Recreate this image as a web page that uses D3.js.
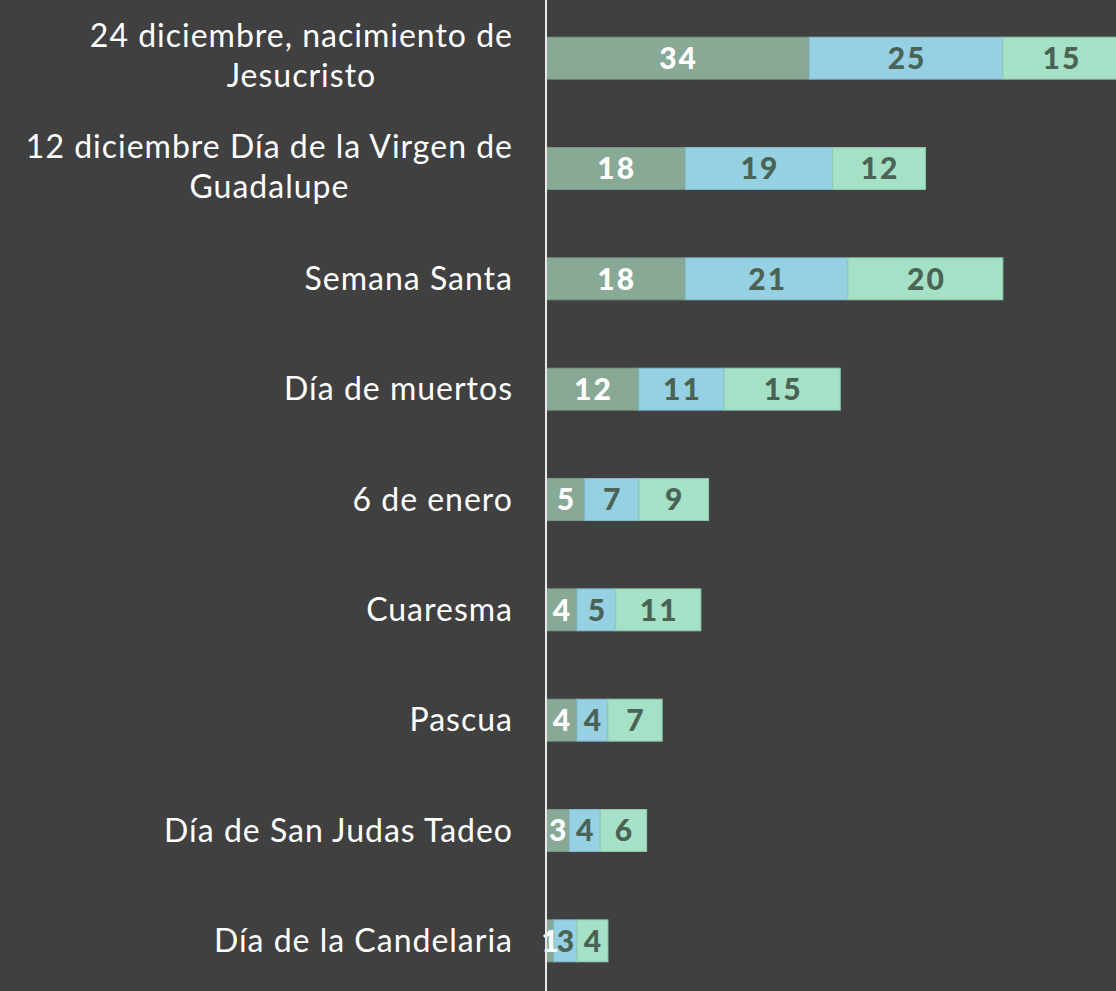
<!DOCTYPE html>
<html>
<head>
<meta charset="utf-8">
<script src="https://cdn.jsdelivr.net/npm/d3@7"></script>
<style>
  html, body { margin: 0; padding: 0; background: #404040; }
  svg { display: block; }
  .c-label { fill: #ffffff; font-family: Lato, sans-serif; font-size: 32px; letter-spacing: 1px; }
  .c-value { font-family: Lato, sans-serif; font-weight: 900; font-size: 30px; letter-spacing: 2px; }
</style>
</head>
<body>
<div id="chart"></div>
<script>
const categories = [
  ['24 diciembre, nacimiento de', 'Jesucristo'],
  ['12 diciembre Día de la Virgen de', 'Guadalupe'],
  ['Semana Santa'],
  ['Día de muertos'],
  ['6 de enero'],
  ['Cuaresma'],
  ['Pascua'],
  ['Día de San Judas Tadeo'],
  ['Día de la Candelaria']
];
const series1 = [34, 18, 18, 12, 5, 4, 4, 3, 1];
const series2 = [25, 19, 21, 11, 7, 5, 4, 4, 3];
const series3 = [15, 12, 20, 15, 9, 11, 7, 6, 4];

const fills = ['#87a996', '#96d0e3', '#a5e1c6'];
const strokes = ['#7a9a88', '#84bccf', '#8fcbb0'];
const textColors = ['#ffffff', '#4a6354', '#4a6354'];

const width = 1116;
const height = 991;
const axisX = 546;

const svg = d3.select('#chart')
  .append('svg')
  .attr('width', width)
  .attr('height', height);

const rows = categories.map((c, i) => ({
  key: i,
  label: c,
  values: [series1[i], series2[i], series3[i]]
}));

const xScale = d3.scaleLinear().domain([0, 74]).range([axisX, axisX + 573]);
const yScale = d3.scaleBand()
  .domain(rows.map((d) => d.key))
  .range([3, 996])
  .paddingInner(0.62)
  .paddingOuter(0.31);

const segments = [];
rows.forEach((row) => {
  let start = 0;
  row.values.forEach((v, s) => {
    segments.push({ row: row.key, s: s, x0: start, x1: start + v, v: v });
    start += v;
  });
});

svg.append('g')
  .selectAll('rect')
  .data(segments)
  .enter()
  .append('rect')
  .attr('x', (d) => xScale(d.x0))
  .attr('y', (d) => yScale(d.row))
  .attr('width', (d) => xScale(d.x1) - xScale(d.x0))
  .attr('height', yScale.bandwidth())
  .attr('fill', (d) => fills[d.s])
  .attr('stroke', (d) => strokes[d.s])
  .attr('stroke-width', 1);

svg.append('g')
  .selectAll('text')
  .data(segments)
  .enter()
  .append('text')
  .attr('class', 'c-value')
  .attr('x', (d) => (xScale(d.x0) + xScale(d.x1)) / 2 + 1)
  .attr('y', (d) => yScale(d.row) + yScale.bandwidth() / 2)
  .attr('dy', '0.36em')
  .attr('text-anchor', 'middle')
  .attr('fill', (d) => textColors[d.s])
  .text((d) => d.v);

// category axis
svg.append('line')
  .attr('x1', axisX)
  .attr('x2', axisX)
  .attr('y1', 0)
  .attr('y2', height)
  .attr('stroke', '#e8e8e8')
  .attr('stroke-width', 2);

const lineHeight = 40;
const labels = svg.append('g')
  .selectAll('text')
  .data(rows)
  .enter()
  .append('text')
  .attr('class', 'c-label')
  .attr('text-anchor', 'middle');

labels.each(function (d) {
  const cy = yScale(d.key) + yScale.bandwidth() / 2;
  const n = d.label.length;
  const el = d3.select(this);
  d.label.forEach((line, i) => {
    el.append('tspan')
      .attr('x', 513)
      .attr('text-anchor', 'end')
      .attr('y', cy + (i - (n - 1) / 2) * lineHeight - (n > 1 ? 2 : 0))
      .attr('dy', '0.35em')
      .text(line);
  });
});

// center the second line of wrapped labels under the first
labels.each(function (d) {
  if (d.label.length < 2) return;
  const spans = d3.select(this).selectAll('tspan').nodes();
  const w0 = spans[0].getComputedTextLength();
  const center = 513 - w0 / 2;
  d3.select(spans[1]).attr('x', center).attr('text-anchor', 'middle');
});
</script>
</body>
</html>
